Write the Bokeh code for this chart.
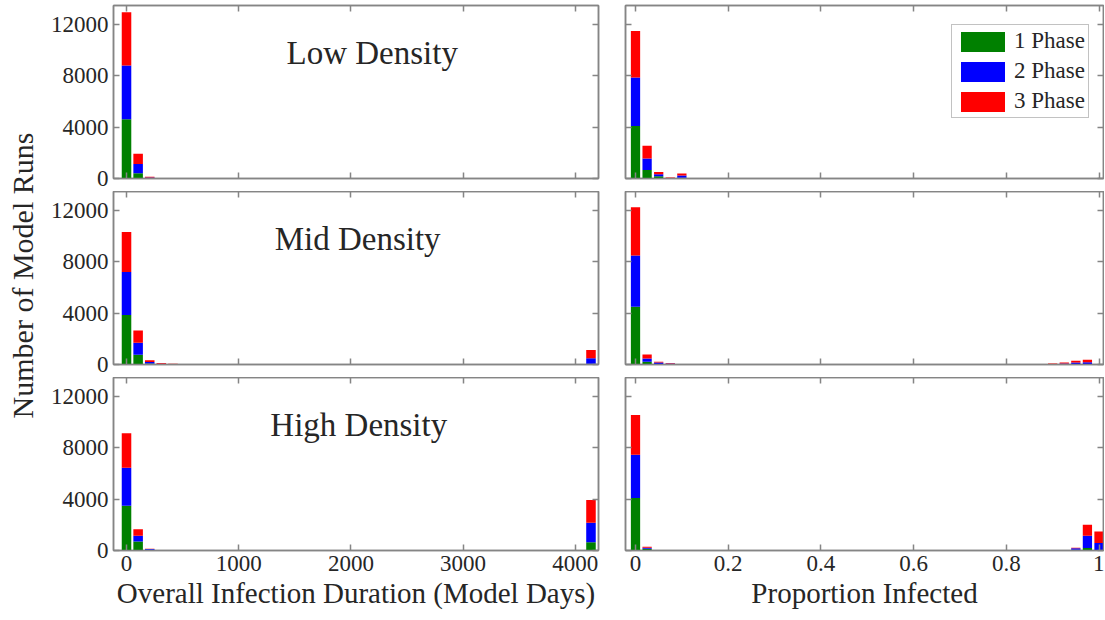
from math import pi
from bokeh.plotting import figure
from bokeh.layouts import gridplot, row
from bokeh.models import (Range1d, FixedTicker, LinearAxis, Label, Legend, LegendItem,
                          CustomJSTickFormatter, ColumnDataSource)
from bokeh.embed import file_html
from bokeh.resources import INLINE

# ---------------- data ----------------
phases = ["1 Phase", "2 Phase", "3 Phase"]
colors = ["#008000", "#0000FF", "#FF0000"]
density_names = ["Low Density", "Mid Density", "High Density"]

y_ticks = [0, 4000, 8000, 12000]
dur_ticks = [0, 1000, 2000, 3000, 4000]
prop_ticks = [0, 0.2, 0.4, 0.6, 0.8, 1.0]

# Overall infection duration histograms (bin centres, model days)
low_dur_x = [0, 103.5, 207]
low_dur_g = [4620, 410, 30]
low_dur_b = [4190, 720, 40]
low_dur_r = [4160, 800, 60]

mid_dur_x = [0, 103.5, 207, 310.5, 414, 517.5, 4140]
mid_dur_g = [3870, 770, 80, 20, 10, 5, 50]
mid_dur_b = [3350, 930, 110, 40, 15, 10, 445]
mid_dur_r = [3110, 960, 150, 50, 25, 15, 640]

high_dur_x = [0, 103.5, 207, 310.5, 4140]
high_dur_g = [3500, 700, 60, 5, 640]
high_dur_b = [2960, 460, 50, 5, 1520]
high_dur_r = [2680, 490, 20, 10, 1780]

# Proportion infected histograms (bin centres)
low_prop_x = [0, 0.025, 0.05, 0.075, 0.1]
low_prop_g = [4100, 670, 180, 15, 50]
low_prop_b = [3780, 900, 150, 20, 180]
low_prop_r = [3630, 980, 185, 35, 155]

mid_prop_x = [0, 0.025, 0.05, 0.075, 0.1, 0.125, 0.15, 0.85, 0.875, 0.9, 0.925, 0.95, 0.975]
mid_prop_g = [4510, 210, 40, 15, 5, 3, 3, 5, 5, 10, 15, 25, 30]
mid_prop_b = [3990, 255, 120, 55, 10, 5, 5, 5, 5, 20, 60, 130, 155]
mid_prop_r = [3770, 310, 50, 40, 15, 12, 10, 10, 10, 45, 80, 130, 180]

high_prop_x = [0, 0.025, 0.05, 0.875, 0.9, 0.925, 0.95, 0.975, 1.0]
high_prop_g = [4090, 130, 5, 10, 30, 25, 60, 200, 30]
high_prop_b = [3375, 80, 5, 3, 5, 5, 120, 960, 560]
high_prop_r = [3110, 75, 15, 2, 5, 5, 40, 850, 900]

dur_bar_width = 85
prop_bar_width = 0.02

# label anchor positions (data units) for density labels
label_x = [2190, 2060, 2070]
label_y = 9800

# ---------------- style ----------------
FONT = "Liberation Serif"
AX_COL = "#858585"
TXT_COL = "#262626"

prop_fmt = CustomJSTickFormatter(code=r"return tick.toFixed(1).replace(/\.0$/, '');")


def style_axis(ax, ticks, show_labels, fmt=None):
    ax.ticker = FixedTicker(ticks=ticks)
    ax.major_tick_in = 6
    ax.major_tick_out = 0
    ax.minor_tick_line_color = None
    ax.axis_line_color = AX_COL
    ax.axis_line_width = 1.5
    ax.major_tick_line_color = AX_COL
    ax.major_tick_line_width = 1.5
    if show_labels:
        if fmt is not None:
            ax.formatter = fmt
        ax.major_label_text_font = FONT
        ax.major_label_text_font_size = "23px"
        ax.major_label_text_color = TXT_COL
        ax.major_label_standoff = 5
    else:
        ax.formatter = CustomJSTickFormatter(code="return '';")
        ax.major_label_text_font_size = "4px"
        ax.major_label_standoff = 0


FRAME_H = 173
LEFT_W = 485
RIGHT_W = 478
LABEL_FIG_W = 40
TOP_B = [5, 0, 0]
BOT_B = [13, 13, 70]


def make_panel(col, rowi, xs, g, b, r):
    if col == 0:
        xr = Range1d(-116, 4207)
        ticks = dur_ticks
        fmt = None
        width = dur_bar_width
        mbl, mbr = 73, 13
        fw = LEFT_W
    else:
        xr = Range1d(-0.0216, 1.0097)
        ticks = prop_ticks
        fmt = prop_fmt
        width = prop_bar_width
        mbl, mbr = 14, 1
        fw = RIGHT_W
    p = figure(frame_width=fw, frame_height=FRAME_H, x_range=xr, y_range=Range1d(0, 13500),
               output_backend="svg", toolbar_location=None,
               min_border_left=mbl, min_border_right=mbr,
               min_border_top=TOP_B[rowi], min_border_bottom=BOT_B[rowi],
               background_fill_color="white", border_fill_color="white")
    p.outline_line_color = AX_COL
    p.outline_line_width = 1.5
    p.xgrid.grid_line_color = None
    p.ygrid.grid_line_color = None

    src = ColumnDataSource(dict(x=xs, g=g, b=b, r=r))
    rs = p.vbar_stack(["g", "b", "r"], x="x", width=width, color=colors, source=src,
                      line_color=None)

    xa = p.xaxis[0]
    ya = p.yaxis[0]
    style_axis(xa, ticks, rowi == 2, fmt)
    style_axis(ya, y_ticks, col == 0)

    top = LinearAxis()
    style_axis(top, ticks, False)
    p.add_layout(top, "above")
    right = LinearAxis()
    style_axis(right, y_ticks, False)
    p.add_layout(right, "right")

    if rowi == 2:
        xa.axis_label = ("Overall Infection Duration (Model Days)" if col == 0
                         else "Proportion Infected")
        xa.axis_label_text_font = FONT
        xa.axis_label_text_font_size = "29px"
        xa.axis_label_text_font_style = "normal"
        xa.axis_label_text_color = TXT_COL
        xa.axis_label_standoff = 3

    if col == 0:
        p.add_layout(Label(x=label_x[rowi], y=label_y, text=density_names[rowi],
                           text_font=FONT, text_font_size="33px", text_color=TXT_COL,
                           text_align="center", text_baseline="middle"))
    if col == 1 and rowi == 0:
        legend = Legend(items=[LegendItem(label=phases[i], renderers=[rs[i]]) for i in range(3)],
                        location=(326, 60))
        legend.label_text_font = FONT
        legend.label_text_font_size = "23px"
        legend.label_text_color = TXT_COL
        legend.label_height = 25
        legend.glyph_width = 55
        legend.glyph_height = 25
        legend.label_standoff = 4
        legend.spacing = 4
        legend.padding = 3
        legend.margin = 0
        legend.border_line_color = AX_COL
        legend.border_line_width = 1.5
        legend.background_fill_alpha = 1
        p.add_layout(legend)
    return p


datasets = [
    [(low_dur_x, low_dur_g, low_dur_b, low_dur_r), (low_prop_x, low_prop_g, low_prop_b, low_prop_r)],
    [(mid_dur_x, mid_dur_g, mid_dur_b, mid_dur_r), (mid_prop_x, mid_prop_g, mid_prop_b, mid_prop_r)],
    [(high_dur_x, high_dur_g, high_dur_b, high_dur_r), (high_prop_x, high_prop_g, high_prop_b, high_prop_r)],
]

rows = []
for ri in range(3):
    rows.append([make_panel(ci, ri, *datasets[ri][ci]) for ci in range(2)])

grid = gridplot(rows, toolbar_location=None)

# narrow figure holding the shared y-axis label
TOTAL_H = sum(TOP_B) + sum(BOT_B) + 3 * FRAME_H
lab = figure(frame_width=LABEL_FIG_W, frame_height=TOTAL_H, x_axis_type=None, y_axis_type=None,
             output_backend="svg", toolbar_location=None,
             min_border_left=0, min_border_right=0, min_border_top=0, min_border_bottom=0)
lab.outline_line_color = None
lab.xgrid.grid_line_color = None
lab.ygrid.grid_line_color = None
lab.add_layout(Label(x=22, y=TOTAL_H - 275, x_units="screen", y_units="screen",
                     text="Number of Model Runs", angle=pi / 2,
                     text_font=FONT, text_font_size="30px", text_color=TXT_COL,
                     text_align="center", text_baseline="middle"))

layout = row(lab, grid)

open("out.html", "w").write(file_html(layout, INLINE))
